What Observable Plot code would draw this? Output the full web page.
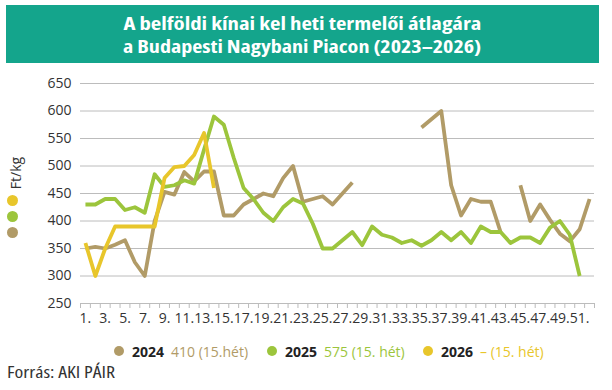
<!DOCTYPE html>
<html>
<head>
<meta charset="utf-8">
<script src="https://cdn.jsdelivr.net/npm/d3@7"></script>
<script src="https://cdn.jsdelivr.net/npm/@observablehq/plot@0.6"></script>
<style>
  html, body { margin: 0; padding: 0; background: #fff; }
  #wrap { position: relative; width: 612px; height: 390px; overflow: hidden; font-family: "Open Sans", sans-serif; }
  #banner { position: absolute; left: 6px; top: 5px; width: 593px; height: 58px; background: #14a58c; }
  .tline { position: absolute; left: 0; width: 100%; text-align: center; color: #fff; font-weight: 700; font-size: 18px; line-height: 20px; height: 20px; white-space: nowrap; }
  .tline span { display: inline-block; font-stretch: 75%; transform-origin: center; line-height: 20px; }
  #chart { position: absolute; left: 0; top: 70px; }
  #unit { position: absolute; left: 6px; top: 158px; width: 18px; height: 30px; }
  #unit span { position: absolute; left: 50%; top: 50%; transform: translate(-50%,-50%) rotate(-90deg); font-size: 14px; color: #333; white-space: nowrap; }
  .udot { position: absolute; width: 11px; height: 11px; border-radius: 50%; left: 7px; }
  .leg { position: absolute; top: 341px; height: 20px; display: flex; align-items: center; font-size: 14px; white-space: nowrap; }
  .leg .d { width: 10px; height: 10px; border-radius: 50%; margin-right: 8px; }
  .leg b { color: #222; margin-right: 7px; }
  #src { position: absolute; left: 7px; top: 362px; font-size: 16px; line-height: 20px; color: #333; white-space: nowrap; }
  #src span { display: inline-block; font-stretch: 87.5%; transform-origin: left center; }
</style>
</head>
<body>
<div id="wrap">
  <div id="banner">
    <div class="tline" style="top:8px"><span id="t1">A belföldi kínai kel heti termelői átlagára</span></div>
    <div class="tline" style="top:31px"><span id="t2">a Budapesti Nagybani Piacon (2023–2026)</span></div>
  </div>
  <div id="chart"></div>
  <div id="unit"><span>Ft/kg</span></div>
  <div id="udots"></div>
  <div id="legend"></div>
  <div id="src"><span id="srct">Forrás: AKI PÁIR</span></div>
</div>
<script>
// ---- data ----
const weeks = [1,2,3,4,5,6,7,8,9,10,11,12,13,14,15,16,17,18,19,20,21,22,23,24,25,26,
               27,28,29,30,31,32,33,34,35,36,37,38,39,40,41,42,43,44,45,46,47,48,49,50,51,52];
const weekLabels = [1,3,5,7,9,11,13,15,17,19,21,23,25,27,29,31,33,35,37,39,41,43,45,47,49,51];
const yTicks = [250,300,350,400,450,500,550,600,650];

const series = ["2024", "2025", "2026"];
const colors = ["#b19b67", "#9cc53c", "#e8c62b"];
const legendValues = ["410 (15.hét)", "575 (15. hét)", "– (15. hét)"];

const v2024 = [350,353,350,357,365,325,300,400,453,448,489,472,490,490,410,410,430,440,450,445,
               478,500,435,440,445,430,450,470,null,null,null,null,null,null,570,585,600,465,410,440,
               435,435,380,null,465,400,430,402,377,363,385,440];
const v2025 = [430,430,440,440,420,425,415,485,462,465,474,468,530,590,575,515,460,440,415,400,
               425,440,432,395,350,350,365,380,356,390,375,370,360,365,355,365,380,365,380,360,
               390,380,380,360,370,370,360,388,400,375,300,null];
const v2026 = [360,300,350,390,390,390,390,390,478,498,500,520,560,460,null,null,null,null,null,null,
               null,null,null,null,null,null,null,null,null,null,null,null,null,null,null,null,null,null,null,null,
               null,null,null,null,null,null,null,null,null,null,null,null];

const values = [v2024, v2025, v2026];
const rows = series.map((s, i) => weeks.map((w, j) => ({series: s, week: w, value: values[i][j] == null ? NaN : values[i][j]})));
const boundaries = [0.5, ...weeks.map(w => w + 0.5)];

const plot = Plot.plot({
  width: 612,
  height: 265,
  marginTop: 13,
  marginBottom: 32,
  marginLeft: 80,
  marginRight: 18,
  style: { fontFamily: "Open Sans, sans-serif", fontSize: "14px", color: "#333", background: "transparent" },
  x: { type: "linear", domain: [0.5, 52.5] },
  y: { domain: [250, 650] },
  marks: [
    Plot.gridY(yTicks, { stroke: "#bcbcbc", strokeOpacity: 1, strokeWidth: 1 }),
    Plot.axisY(yTicks, { tickSize: 0, tickPadding: 9, label: null, fill: "#333" }),
    Plot.axisX(boundaries, { tickSize: 5, tickFormat: () => "", stroke: "#bcbcbc", label: null }),
    Plot.axisX(weekLabels, { tickSize: 0, tickPadding: 10, tickFormat: d => d + ".", label: null, fill: "#333" }),
    ...rows.map((r, i) => Plot.line(r, {
      x: "week", y: "value", stroke: colors[i], strokeWidth: 3.8,
      strokeLinejoin: "round", strokeLinecap: "butt"
    }))
  ]
});
document.getElementById("chart").appendChild(plot);

// unit dots (yellow, green, brown from top)
const udots = document.getElementById("udots");
[[colors[2], 195], [colors[1], 211], [colors[0], 227]].forEach(([c, t]) => {
  const d = document.createElement("div");
  d.className = "udot"; d.style.background = c; d.style.top = t + "px";
  udots.appendChild(d);
});

// legend
const legendLeft = [114, 267, 423];
const legend = document.getElementById("legend");
series.forEach((s, i) => {
  const item = document.createElement("div");
  item.className = "leg";
  item.style.left = legendLeft[i] + "px";
  item.innerHTML = `<span class="d" style="background:${colors[i]}"></span><b>${s}</b><span style="color:${colors[i]}">${legendValues[i]}</span>`;
  legend.appendChild(item);
});

// fit text widths
[["t1", 358], ["t2", 358], ["srct", 108]].forEach(([id, w]) => {
  const el = document.getElementById(id);
  const cw = el.getBoundingClientRect().width;
  el.style.transform = `scaleX(${w / cw})`;
});
</script>
</body>
</html>
